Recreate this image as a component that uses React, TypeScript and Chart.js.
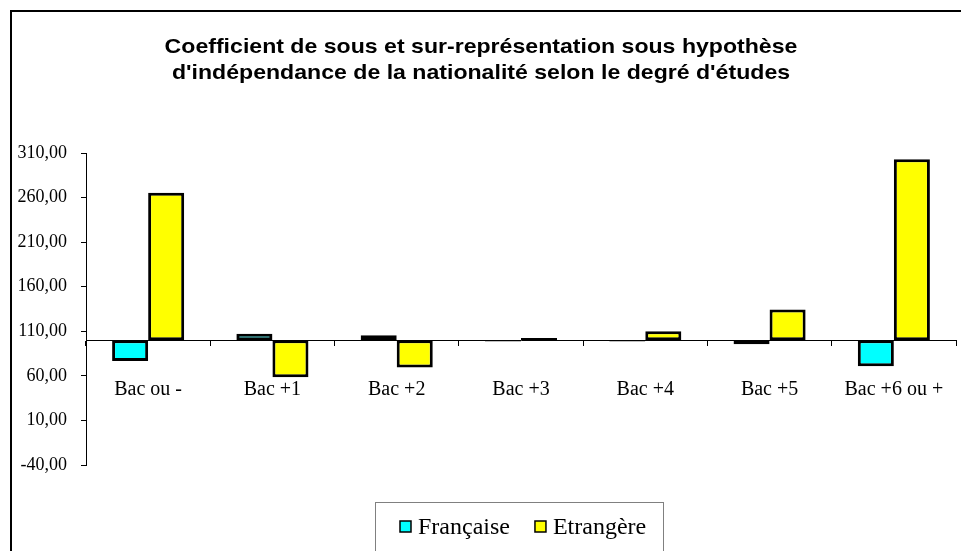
import React, { useEffect, useRef } from "react";
import { Chart, registerables } from "chart.js";

Chart.register(...registerables);

const categories = ["Bac ou -", "Bac +1", "Bac +2", "Bac +3", "Bac +4", "Bac +5", "Bac +6 ou +"];
const francaise = [76.8, 107.1, 105.6, 98.5, 98.5, 95.5, 70.8];
const etrangere = [265.3, 58.5, 69.3, 102.5, 110.0, 134.4, 303.0];
const seriesLabels = ["Française", "Etrangère"];
const seriesColors = ["#00FFFF", "#FFFF00"];
const baseValue = 100;
const yMin = -40;
const yMax = 310;
const yStep = 50;
const titleLines = [
  "Coefficient de sous et sur-représentation sous hypothèse",
  "d'indépendance de la nationalité selon le degré d'études",
];

const titlePlugin = {
  id: "stretchTitle",
  afterDraw(chart: any) {
    const ctx = chart.ctx;
    ctx.save();
    ctx.font = "bold 21px 'Liberation Sans', Arial, sans-serif";
    ctx.fillStyle = "#000";
    ctx.textAlign = "center";
    ctx.textBaseline = "middle";
    const cx = 481;
    titleLines.forEach((line, i) => {
      ctx.save();
      ctx.translate(cx, 47 + i * 26);
      ctx.scale(1.1, 1);
      ctx.fillText(line, 0, 0);
      ctx.restore();
    });
    ctx.restore();
  },
};

const legendPlugin = {
  id: "boxLegend",
  afterDraw(chart: any) {
    const ctx = chart.ctx;
    ctx.save();
    ctx.strokeStyle = "#808080";
    ctx.lineWidth = 1;
    ctx.strokeRect(375.5, 502.5, 288, 80);
    ctx.font = "24px 'Liberation Serif', 'Times New Roman', serif";
    ctx.textBaseline = "middle";
    ctx.textAlign = "left";
    let x = 400;
    chart.data.datasets.forEach((ds: any) => {
      ctx.fillStyle = ds.backgroundColor;
      ctx.fillRect(x, 521, 11, 11);
      ctx.lineWidth = 1.5;
      ctx.strokeStyle = "#000";
      ctx.strokeRect(x, 521, 11, 11);
      ctx.fillStyle = "#000";
      ctx.fillText(ds.label, x + 18, 528);
      x += 18 + ctx.measureText(ds.label).width + 25;
    });
    ctx.restore();
  },
};

export default function App() {
  const ref = useRef<HTMLCanvasElement | null>(null);
  useEffect(() => {
    if (!ref.current) return;
    const chart = new Chart(ref.current, {
      type: "bar",
      data: {
        labels: categories,
        datasets: [francaise, etrangere].map((vals, i) => ({
          label: seriesLabels[i],
          data: vals.map((v) => [baseValue, v]),
          backgroundColor: seriesColors[i],
          borderColor: "#000",
          borderWidth: 3,
          borderSkipped: false,
          categoryPercentage: 0.58,
          barPercentage: 1,
        })) as any,
      },
      options: {
        animation: false,
        responsive: false,
        maintainAspectRatio: false,
        layout: { padding: { left: 0, top: 153, right: 5, bottom: 86 } },
        plugins: {
          legend: { display: false },
          tooltip: { enabled: false },
          title: { display: false },
        },
        scales: {
          x: {
            type: "category",
            position: { y: baseValue } as any,
            afterFit: (scale: any) => {
              scale.paddingLeft = 0;
              scale.paddingRight = 0;
            },
            grid: {
              display: true,
              offset: true,
              drawOnChartArea: false,
              drawTicks: true,
              tickLength: 5,
              color: "#000",
            },
            border: { display: true, color: "#000", width: 1 },
            ticks: {
              color: "#000",
              padding: 33,
              maxRotation: 0,
              autoSkip: false,
              font: { family: "'Liberation Serif', 'Times New Roman', serif", size: 20 },
            },
          },
          y: {
            type: "linear",
            position: "left",
            min: yMin,
            max: yMax,
            afterFit: (scale: any) => {
              scale.width = 86;
            },
            grid: {
              display: true,
              drawOnChartArea: false,
              drawTicks: true,
              tickLength: 5,
              color: "#000",
            },
            border: { display: true, color: "#000", width: 1 },
            ticks: {
              stepSize: yStep,
              color: "#000",
              padding: 14,
              font: { family: "'Liberation Serif', 'Times New Roman', serif", size: 18 },
              callback: (v: any) => Number(v).toFixed(2).replace(".", ","),
            },
          },
        },
      },
      plugins: [titlePlugin, legendPlugin],
    });
    return () => chart.destroy();
  }, []);

  return (
    <div
      style={{
        position: "fixed",
        left: 0,
        top: 0,
        width: 961,
        height: 551,
        overflow: "hidden",
        background: "#fff",
      }}
    >
      <div
        style={{
          position: "absolute",
          left: 10,
          top: 10,
          width: 1000,
          height: 600,
          borderLeft: "2px solid #000",
          borderTop: "2px solid #000",
        }}
      />
      <canvas ref={ref} width={961} height={551} style={{ position: "absolute", left: 0, top: 0 }} />
    </div>
  );
}
